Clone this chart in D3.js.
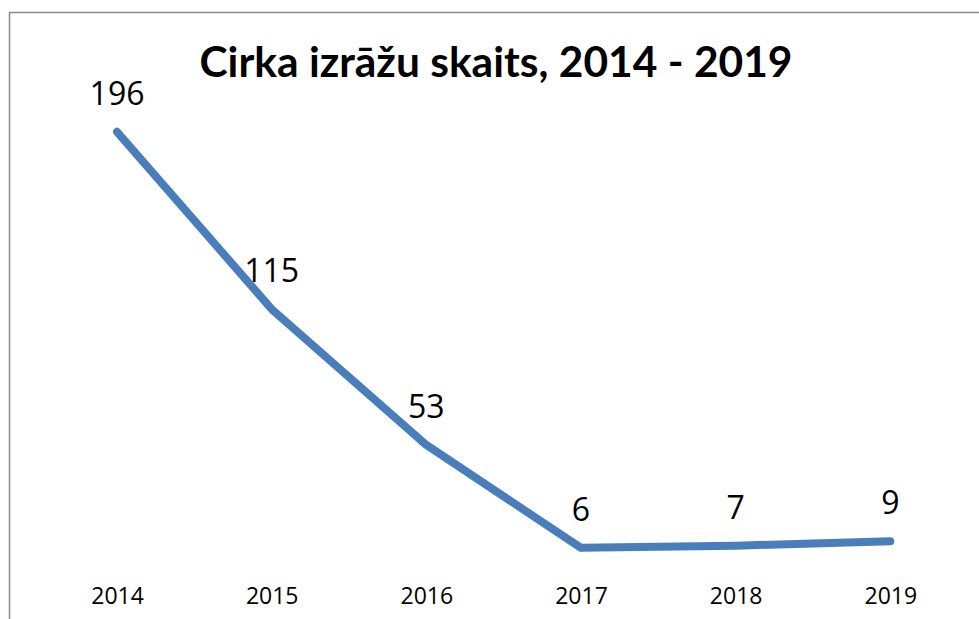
<!DOCTYPE html>
<html>
<head>
<meta charset="utf-8">
<script src="https://cdn.jsdelivr.net/npm/d3@7"></script>
<style>
  html, body { margin: 0; padding: 0; background: #fff; }
  svg { display: block; }
</style>
</head>
<body>
<svg id="chart" width="979" height="619"></svg>
<script>
const titleText = "Cirka izrāžu skaits, 2014 - 2019";
const years = ["2014", "2015", "2016", "2017", "2018", "2019"];
const shows = [196, 115, 53, 6, 7, 9];

const W = 979, H = 619;
const svg = d3.select("#chart");

svg.append("rect").attr("width", W).attr("height", H).attr("fill", "#fff");

// frame (extends beyond right/bottom edges)
svg.append("rect")
  .attr("x", 9.5).attr("y", 12.5)
  .attr("width", W + 20).attr("height", H + 20)
  .attr("fill", "none").attr("stroke", "#8a8a8a").attr("stroke-width", 1.5);

const x = d3.scalePoint().domain(years).range([39.7, 967.6]).padding(0.5);
const y = d3.scaleLinear().domain([0, 200]).range([561, 123]);

// title
const title = svg.append("text")
  .attr("x", 496).attr("y", 77)
  .attr("text-anchor", "middle")
  .attr("font-family", "Lato, 'Open Sans', sans-serif")
  .attr("font-weight", "bold")
  .attr("font-size", 42)
  .attr("fill", "#000")
  .text(titleText);
const natural = title.node().getComputedTextLength();
if (Math.abs(natural - 593) > 4) {
  title.attr("textLength", 593).attr("lengthAdjust", "spacingAndGlyphs");
}

// line
const data = years.map((yr, i) => ({ yr, v: shows[i] }));
const line = d3.line().x(d => x(d.yr)).y(d => y(d.v));
svg.append("path")
  .datum(data)
  .attr("d", line)
  .attr("fill", "none")
  .attr("stroke", "#4a7ebb")
  .attr("stroke-width", 8)
  .attr("stroke-linecap", "round")
  .attr("stroke-linejoin", "round");

// data labels
svg.append("g").selectAll("text")
  .data(data)
  .join("text")
  .attr("x", d => x(d.yr))
  .attr("y", d => y(d.v) - 27)
  .attr("text-anchor", "middle")
  .attr("font-family", "'Open Sans', sans-serif")
  .attr("font-size", 32)
  .attr("fill", "#000")
  .text(d => d.v);

// x axis
const axis = svg.append("g")
  .attr("transform", "translate(0,561)")
  .call(d3.axisBottom(x).tickSize(0));
axis.select(".domain").remove();
axis.selectAll("text")
  .attr("y", 43).attr("dy", 0)
  .attr("font-family", "'Open Sans', sans-serif")
  .attr("font-size", 23)
  .attr("fill", "#000");
</script>
</body>
</html>
